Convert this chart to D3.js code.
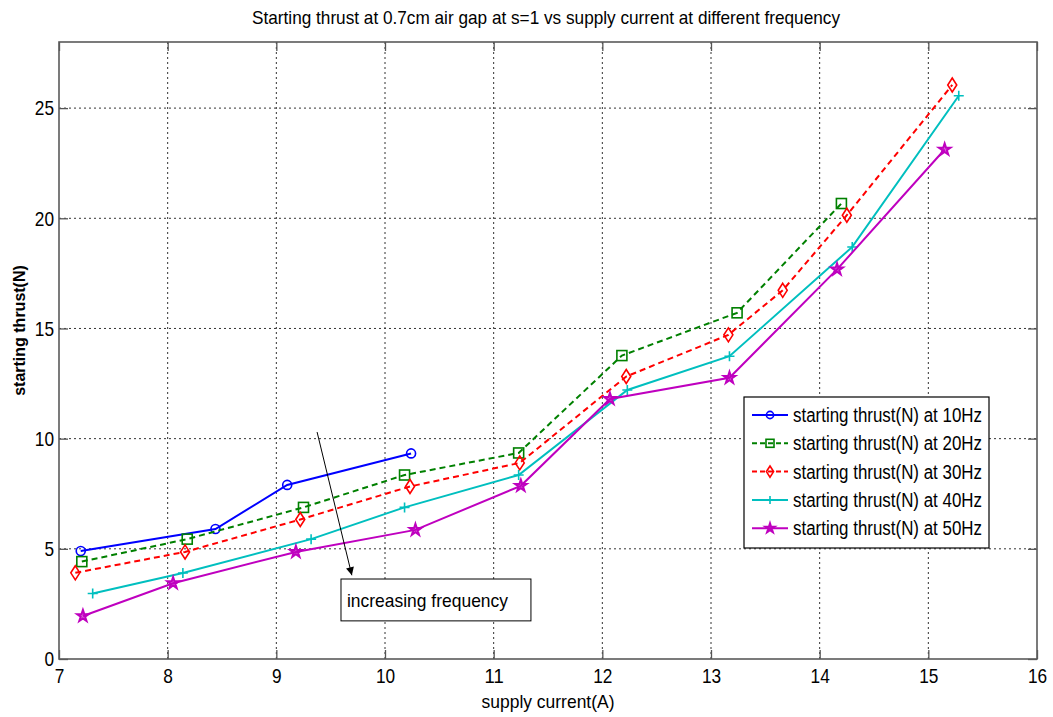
<!DOCTYPE html>
<html>
<head>
<meta charset="utf-8">
<script src="https://cdn.jsdelivr.net/npm/d3@7"></script>
<style>
  body { margin: 0; background: #fff; }
  svg { display: block; font-family: "Liberation Sans", Arial, sans-serif; }
</style>
</head>
<body>
<svg id="chart" width="1053" height="717"></svg>
<script>
// current (A) and thrust (N) per frequency
const current10 = [7.2, 8.44, 9.1, 10.24];
const thrust10  = [4.9, 5.9, 7.9, 9.33];

const current20 = [7.21, 8.18, 9.25, 10.18, 11.23, 12.18, 13.24, 14.2];
const thrust20  = [4.42, 5.44, 6.88, 8.35, 9.35, 13.77, 15.71, 20.67];

const current30 = [7.15, 8.16, 9.22, 10.23, 11.24, 12.22, 13.16, 13.66, 14.25, 15.22];
const thrust30  = [3.91, 4.86, 6.33, 7.83, 8.9, 12.82, 14.71, 16.73, 20.14, 26.05];

const current40 = [7.31, 8.14, 9.32, 10.18, 11.23, 12.23, 13.17, 14.3, 15.28];
const thrust40  = [2.97, 3.9, 5.44, 6.88, 8.35, 12.21, 13.74, 18.7, 25.56];

const current50 = [7.22, 8.05, 9.18, 10.28, 11.25, 12.07, 13.17, 14.16, 15.15];
const thrust50  = [1.95, 3.44, 4.86, 5.86, 7.86, 11.8, 12.76, 17.68, 23.12];

const seriesNames = ['starting thrust(N) at 10Hz', 'starting thrust(N) at 20Hz',
  'starting thrust(N) at 30Hz', 'starting thrust(N) at 40Hz', 'starting thrust(N) at 50Hz'];

const xTicks = [7, 8, 9, 10, 11, 12, 13, 14, 15, 16];
const yTicks = [0, 5, 10, 15, 20, 25];

const titleText = 'Starting thrust at 0.7cm air gap at s=1 vs supply current at different frequency';
const xLabel = 'supply current(A)';
const yLabel = 'starting thrust(N)';
const noteText = 'increasing frequency';

// styling per series
const styles = [
  { color: '#0000ff', dash: null, marker: 'circle' },
  { color: '#008000', dash: '6,4', marker: 'square' },
  { color: '#ff0000', dash: '6,4', marker: 'diamond' },
  { color: '#00bfbf', dash: null, marker: 'plus' },
  { color: '#bf00bf', dash: null, marker: 'star' }
];

const series = [
  [current10, thrust10], [current20, thrust20], [current30, thrust30],
  [current40, thrust40], [current50, thrust50]
].map((d, i) => ({
  name: seriesNames[i],
  style: styles[i],
  points: d[0].map((x, j) => ({ x: x, y: d[1][j] }))
}));

const margin = { top: 42, right: 16, bottom: 58, left: 59 };
const width = 1053 - margin.left - margin.right;
const height = 717 - margin.top - margin.bottom;

const svg = d3.select('#chart');
const g = svg.append('g').attr('transform', `translate(${margin.left},${margin.top})`);

const x = d3.scaleLinear().domain([7, 16]).range([0, width]);
const y = d3.scaleLinear().domain([0, 28]).range([height, 0]);

// squeeze text horizontally, the original uses a narrow font
function narrow(sel, len) {
  sel.attr('textLength', len).attr('lengthAdjust', 'spacingAndGlyphs');
}

// grid
g.append('g').selectAll('line').data(xTicks.slice(1, -1)).join('line')
  .attr('x1', d => x(d)).attr('x2', d => x(d)).attr('y1', 0).attr('y2', height)
  .attr('stroke', '#333').attr('stroke-dasharray', '2,3');
g.append('g').selectAll('line').data(yTicks.slice(1)).join('line')
  .attr('x1', 0).attr('x2', width).attr('y1', d => y(d)).attr('y2', d => y(d))
  .attr('stroke', '#333').attr('stroke-dasharray', '2,3');

// axes with inward ticks
const tickLen = 9;
const xAxis = g.append('g').attr('transform', `translate(0,${height})`)
  .call(d3.axisBottom(x).tickValues(xTicks).tickSize(-tickLen).tickPadding(9));
const xAxisTop = g.append('g')
  .call(d3.axisTop(x).tickValues(xTicks).tickSize(-tickLen).tickFormat(''));
const yAxis = g.append('g')
  .call(d3.axisLeft(y).tickValues(yTicks).tickSize(-tickLen).tickPadding(5));
const yAxisRight = g.append('g').attr('transform', `translate(${width},0)`)
  .call(d3.axisRight(y).tickValues(yTicks).tickSize(-tickLen).tickFormat(''));

[xAxis, xAxisTop, yAxis, yAxisRight].forEach(a => {
  a.select('.domain').remove();
  a.selectAll('line').attr('stroke', '#555').attr('stroke-width', 1.3);
  a.selectAll('text').attr('fill', '#000').style('font-size', '21px')
    .style('font-family', '"Liberation Sans", Arial, sans-serif')
    .each(function (d) { narrow(d3.select(this), String(d).length * 9.6); });
});

g.append('rect').attr('width', width).attr('height', height)
  .attr('fill', 'none').attr('stroke', '#5a5a5a').attr('stroke-width', 1.6);

// markers
function drawMarker(sel, type, color, size) {
  const s = size || 1;
  if (type === 'circle') {
    sel.append('circle').attr('r', 4.5 * s).attr('fill', 'none').attr('stroke', color).attr('stroke-width', 1.6);
  } else if (type === 'square') {
    sel.append('rect').attr('x', -5 * s).attr('y', -5 * s).attr('width', 10 * s).attr('height', 10 * s)
      .attr('fill', 'none').attr('stroke', color).attr('stroke-width', 1.6);
  } else if (type === 'diamond') {
    sel.append('path').attr('d', `M0,${-7 * s}L${4.5 * s},0L0,${7 * s}L${-4.5 * s},0Z`)
      .attr('fill', 'none').attr('stroke', color).attr('stroke-width', 1.6);
  } else if (type === 'plus') {
    sel.append('path').attr('d', `M${-5 * s},0H${5 * s}M0,${-5 * s}V${5 * s}`)
      .attr('stroke', color).attr('stroke-width', 1.6);
  } else if (type === 'star') {
    sel.append('path').attr('d', d3.symbol(d3.symbolStar, 42 * s * s)())
      .attr('fill', color).attr('fill-opacity', 0.6)
      .attr('stroke', color).attr('stroke-width', 2);
  }
}

const line = d3.line().x(d => x(d.x)).y(d => y(d.y));

series.forEach(s => {
  g.append('path').datum(s.points)
    .attr('d', line).attr('fill', 'none')
    .attr('stroke', s.style.color).attr('stroke-width', 2)
    .attr('stroke-dasharray', s.style.dash);
  s.points.forEach(p => {
    const m = g.append('g').attr('transform', `translate(${x(p.x)},${y(p.y)})`);
    drawMarker(m, s.style.marker, s.style.color);
  });
});

// annotation arrow and box
const arrowFrom = { x: 9.375, y: 10.3 };
const arrowTo = { x: 9.695, y: 3.8 };
const boxFrom = { x: 9.595, y: 3.63 };
const boxTo = { x: 11.343, y: 1.73 };

svg.append('defs').append('marker')
  .attr('id', 'arrowhead').attr('viewBox', '0 0 10 10')
  .attr('refX', 10).attr('refY', 5)
  .attr('markerWidth', 14).attr('markerHeight', 8)
  .attr('markerUnits', 'userSpaceOnUse')
  .attr('orient', 'auto')
  .append('path').attr('d', 'M0,0L10,5L0,10Z').attr('fill', '#000');

g.append('line')
  .attr('x1', x(arrowFrom.x)).attr('y1', y(arrowFrom.y))
  .attr('x2', x(arrowTo.x)).attr('y2', y(arrowTo.y))
  .attr('stroke', '#000').attr('stroke-width', 1)
  .attr('marker-end', 'url(#arrowhead)');

g.append('rect')
  .attr('x', x(boxFrom.x)).attr('y', y(boxFrom.y))
  .attr('width', x(boxTo.x) - x(boxFrom.x)).attr('height', y(boxTo.y) - y(boxFrom.y))
  .attr('fill', '#fff').attr('stroke', '#000').attr('stroke-width', 1);
g.append('text')
  .attr('x', x(boxFrom.x) + 6).attr('y', (y(boxFrom.y) + y(boxTo.y)) / 2 + 7)
  .style('font-size', '19px').text(noteText)
  .call(narrow, 161);

// legend
const legend = g.append('g').attr('transform', `translate(${744 - margin.left},${397 - margin.top})`);
legend.append('rect').attr('width', 245).attr('height', 151)
  .attr('fill', '#fff').attr('stroke', '#000').attr('stroke-width', 1.2);
series.forEach((s, i) => {
  const row = legend.append('g').attr('transform', `translate(0,${18 + i * 28.3})`);
  row.append('line').attr('x1', 8).attr('x2', 44)
    .attr('stroke', s.style.color).attr('stroke-width', 2)
    .attr('stroke-dasharray', s.style.dash ? '5,3' : null);
  const m = row.append('g').attr('transform', 'translate(26,0)');
  drawMarker(m, s.style.marker, s.style.color, 0.8);
  row.append('text').attr('x', 49).attr('y', 7).style('font-size', '20px').text(s.name)
    .call(narrow, 189);
});

// titles
svg.append('text').attr('x', margin.left + width / 2 - 2).attr('y', 24)
  .attr('text-anchor', 'middle').style('font-size', '19px').text(titleText)
  .call(narrow, 588);
svg.append('text').attr('x', margin.left + width / 2).attr('y', 708)
  .attr('text-anchor', 'middle').style('font-size', '19px').text(xLabel)
  .call(narrow, 133);
svg.append('text')
  .attr('transform', `translate(25,${margin.top + height / 2 - 20}) rotate(-90)`)
  .attr('text-anchor', 'middle')
  .style('font-size', '16px').style('font-weight', 'bold').text(yLabel);
</script>
</body>
</html>
